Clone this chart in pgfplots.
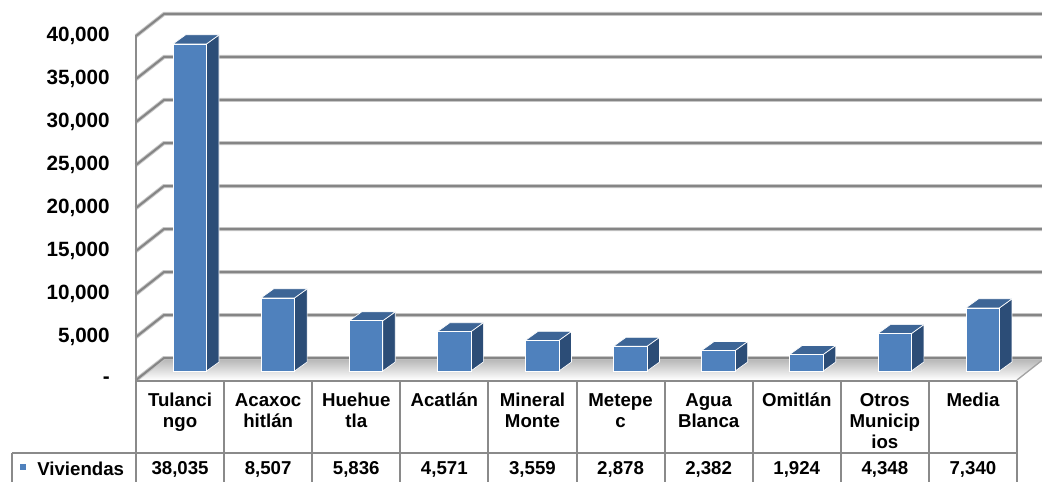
\documentclass[border=0pt]{standalone}
\usepackage{pgfplots}
\pgfplotsset{compat=1.18}
\usepackage{fontspec}
\setmainfont{Liberation Sans}
\definecolor{barfront}{HTML}{4F81BD}
\definecolor{bartop}{HTML}{3D6596}
\definecolor{barside}{HTML}{2C4D77}
\definecolor{gridc}{HTML}{8C8C8C}
\definecolor{tabc}{HTML}{8A8A8A}
\newcommand\St{\rule{0pt}{10.5pt}}
\begin{document}
\begin{tikzpicture}
% pixel frame: pixel (X,Y) of the reference
\begin{scope}[x=0.75pt,y=-0.75pt,shift={(-102pt,285pt)}]
 \useasboundingbox (0,0) rectangle (1042,478);
 % floor
 \shade[top color=black!30, middle color=black!6, bottom color=white] (136,380) -- (1017,380) -- (1045,358) -- (164,358) -- cycle;
 \draw[gridc!80, line width=1pt] (1017,380) -- (1045,358);
 % grid lines on the back wall and side wall (values in thousands)
 \foreach \v in {0,5,...,40} {
   \pgfmathsetmacro\yf{380-\v*8.6}
   \draw[black!22, line width=3pt] (136,\yf) -- (164,\yf-22) -- (1050,\yf-22);
   \draw[black!48, line width=1.5pt] (136,\yf) -- (164,\yf-22) -- (1050,\yf-22);
 }
 \draw[gridc, line width=1.4pt] (136,35) -- (136,381);
\end{scope}
\begin{axis}[
  at={(0,0)}, anchor=south west, scale only axis,
  width=660.75pt, height=258pt,
  xmin=-0.5, xmax=9.5, ymin=0, ymax=40000,
  clip=false, axis line style={draw=none},
  major tick length=0pt, scaled y ticks=false,
  ytick={0,5000,...,40000},
  yticklabels={-,{5,000},{10,000},{15,000},{20,000},{25,000},{30,000},{35,000},{40,000}},
  yticklabel style={font=\bfseries\fontsize{15.5}{18}\selectfont, anchor=east, inner sep=0pt, xshift=-19.5pt},
  xtick={0,...,9},
  xticklabels={{\St Tulanci\\ngo},{\St Acaxoc\\hitlán},{\St Huehue\\tla},{\St Acatlán},{\St Mineral\\Monte},{\St Metepe\\c},{\St Agua\\Blanca},{\St Omitlán},{\St Otros\\Municip\\ios},{\St Media}},
  xticklabel style={font=\bfseries\fontsize{14}{15.75}\selectfont, align=center, anchor=north, inner sep=0pt, yshift=-9.25pt},
  extra x ticks={0,...,9},
  extra x tick labels={{38,035},{8,507},{5,836},{4,571},{3,559},{2,878},{2,382},{1,924},{4,348},{7,340}},
  extra x tick style={xticklabel style={yshift=-52pt}},
]
\addplot[scatter, only marks, color=barfront, mark=square*, mark size=0.1pt,
  mark options={draw=none, fill=barfront},
  visualization depends on={value \thisrow{v} \as \val},
  scatter/@pre marker code/.code={%
    \edef\h{\fpeval{6.75-\val*0.00645}}%
    \filldraw[fill=barside, draw=white, line width=0.5pt] (19.86pt,6.75pt) -- (29.26pt,13.5pt) -- (29.26pt,\h pt+6.75pt) -- (19.86pt,\h pt) -- cycle;
    \filldraw[fill=bartop, draw=white, line width=0.5pt] (-5.26pt,6.75pt) -- (19.86pt,6.75pt) -- (29.26pt,13.5pt) -- (4.14pt,13.5pt) -- cycle;
    \filldraw[fill=barfront, draw=white, line width=0.5pt] (-5.26pt,6.75pt) rectangle (19.86pt,\h pt);
  },
  scatter/@post marker code/.code={},
] table[x=x, y=v] {
x v
0 38035
1 8507
2 5836
3 4571
4 3559
5 2878
6 2382
7 1924
8 4348
9 7340
};
\end{axis}
\begin{scope}[x=0.75pt,y=-0.75pt,shift={(-102pt,285pt)}]
 \draw[tabc, line width=1.5pt] (136,381) -- (1017,381);
 \draw[tabc, line width=1.5pt] (12,453) -- (1017,453);
 \foreach \k in {0,...,10} {
   \draw[tabc, line width=1.5pt] (136+88.1*\k,381) -- (136+88.1*\k,482);
 }
 \draw[tabc, line width=1.5pt] (12,453) -- (12,482);
 \fill[barfront] (20,464) rectangle (26,470);
 \node[anchor=base west, inner sep=0pt, font=\bfseries\fontsize{14}{15.75}\selectfont] at (37,475) {Viviendas};
\end{scope}
\end{tikzpicture}
\end{document}
